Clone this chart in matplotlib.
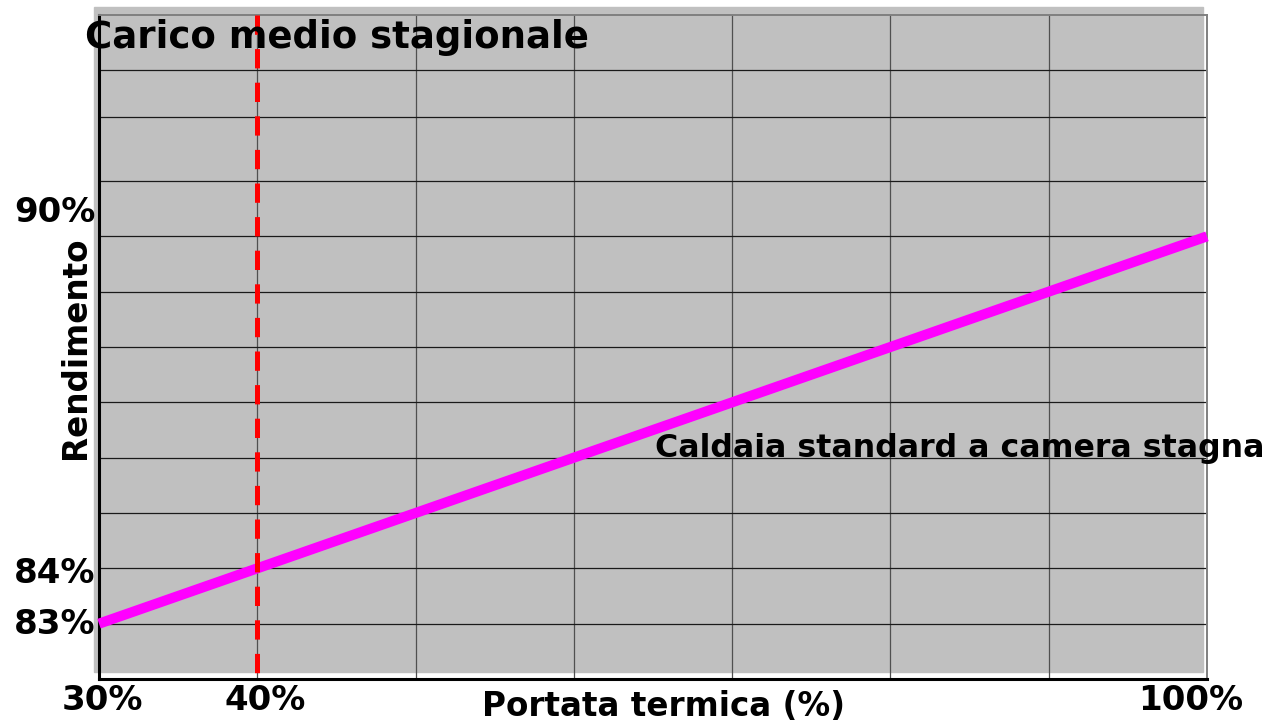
import matplotlib.pyplot as plt
from matplotlib.patches import Rectangle

# data
portata = [30, 100]          # % load
rendimento = [83, 90]        # % efficiency
carico_medio = 40            # seasonal average load
x_grid = [40, 50, 60, 70, 80, 90, 100]
y_grid = [83, 84, 85, 86, 87, 88, 89, 90, 91, 92.15, 93]
x_ticks = [30, 40, 100]
x_labels = ["30%", "40%", "100%"]
y_ticks = [83, 84, 90]
y_labels = ["83%", "84%", "90%"]

W, H = 1267, 725
fig = plt.figure(figsize=(W / 100, H / 100), dpi=100)
plt.rcParams['font.family'] = ['DejaVu Sans']

# grey panel behind the chart (slightly larger than the axes on left/top)
fig.patches.append(Rectangle((94 / W, 1 - 672 / H), (1203 - 94) / W, (672 - 7) / H,
                             transform=fig.transFigure, color="#C0C0C0", zorder=-5))

ax = fig.add_axes([99 / W, 1 - 679 / H, (1207 - 99) / W, (679 - 15) / H])
ax.set_facecolor("none")
ax.set_xlim(30, 100)
ax.set_ylim(82, 94)

for x in x_grid:
    ax.axvline(x, color="#505050", lw=0.9, zorder=1)
for y in y_grid:
    ax.axhline(y, color="#1a1a1a", lw=0.9, zorder=1)

ax.plot(portata, rendimento, color="#FF00FF", lw=7.3, solid_capstyle="butt",
        zorder=4, clip_on=False)
# dashed marker line drawn top -> bottom so the dash pattern starts at the top
ytop, ybot = ax.get_ylim()[::-1]
ax.plot([carico_medio, carico_medio], [ytop, ybot], color="#FF0000", lw=3.6,
        dashes=(3.86, 2.86), zorder=6, clip_on=False)

for s in ["left", "bottom"]:
    ax.spines[s].set_color("black")
    ax.spines[s].set_linewidth(2.2)
for s in ["top", "right"]:
    ax.spines[s].set_color("#808080")
    ax.spines[s].set_linewidth(1.4)
ax.set_xticks([])
ax.set_yticks([])

bold = dict(fontweight="bold", color="black")

# tick labels (small nudges to match the original text boxes)
x_nudge = {"30%": 3, "40%": 8, "100%": -16}
for x, lab in zip(x_ticks, x_labels):
    ax.annotate(lab, (x, 82), xytext=(x_nudge[lab], -22), textcoords="offset pixels",
                ha="center", va="center", fontsize=24.5, annotation_clip=False, **bold)
y_nudge = {"83%": -1, "84%": -5, "90%": 24}
for y, lab in zip(y_ticks, y_labels):
    ax.annotate(lab, (30, y), xytext=(-44, y_nudge[lab]), textcoords="offset pixels",
                ha="center", va="center", fontsize=24.5, annotation_clip=False, **bold)

fig.text(663 / W, 1 - 707 / H, "Portata termica (%)", ha="center", va="center",
         fontsize=23.5, **bold)
fig.text(75 / W, 1 - 348 / H, "Rendimento", ha="center", va="center",
         rotation=90, fontsize=23.5, **bold)
fig.text(85 / W, 1 - 48 / H, "Carico medio stagionale", ha="left", va="baseline",
         fontsize=26.7, zorder=3, **bold)
fig.text(655 / W, 1 - 457 / H, "Caldaia standard a camera stagna", ha="left",
         va="baseline", fontsize=22.8, zorder=3, **bold)

fig.savefig("out.png", dpi=100, facecolor="white")
